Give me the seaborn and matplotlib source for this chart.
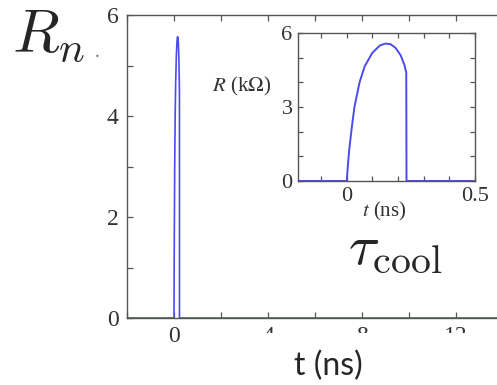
import numpy as np
import pandas as pd
import seaborn as sns
import matplotlib
matplotlib.use("Agg")
import matplotlib.pyplot as plt
from matplotlib.patches import Rectangle
from matplotlib.ticker import MultipleLocator

# pulse (t in ns, R in kOhm)
pulse_t = [-0.19, 0.0, 0.005, 0.01, 0.02, 0.03, 0.05, 0.07, 0.10, 0.13, 0.15,
           0.17, 0.19, 0.21, 0.225, 0.232, 0.233, 0.5]
pulse_r = [0.0, 0.0, 0.7, 1.3, 2.2, 3.0, 4.0, 4.65, 5.2, 5.5, 5.57,
           5.55, 5.4, 5.1, 4.7, 4.4, 0.0, 0.0]
# main trace = same pulse on a long baseline
main_t = [-2.0] + pulse_t + [14.0]
main_r = [0.0] + pulse_r + [0.0]

main_xticks = [0, 4, 8, 12]
main_yticks = [0, 2, 4, 6]
inset_xticks = [0, 0.5]
inset_xlabels = ["0", "0.5"]
inset_yticks = [0, 3, 6]

LINE = "#4b4bf0"
SPINE = "#555555"
TXT = "#333333"

sns.set_theme(style="white")
plt.rcParams["font.family"] = ["Liberation Serif", "DejaVu Serif"]
plt.rcParams["mathtext.fontset"] = "cm"

fig = plt.figure(figsize=(4.97, 3.85), dpi=100)
W, H = 497, 385

def px_axes(x0, y0, x1, y1):
    return fig.add_axes([x0 / W, 1 - y1 / H, (x1 - x0) / W, (y1 - y0) / H])

# main axes (right side runs off the picture)
ax = px_axes(127, 15, 503, 318)
df_main = pd.DataFrame({"t": main_t, "R": main_r})
sns.lineplot(data=df_main, x="t", y="R", ax=ax, color=LINE, lw=1.2,
             estimator=None, sort=False)
ax.set_xlim(-2, 14)
ax.set_ylim(0, 6)
ax.set_xticks(main_xticks)
ax.set_yticks(main_yticks)
ax.xaxis.set_minor_locator(MultipleLocator(2))
ax.yaxis.set_minor_locator(MultipleLocator(1))
ax.tick_params(which="both", direction="in", top=True, right=True,
               bottom=True, left=True, length=4, width=0.9, color=SPINE,
               labelsize=17, pad=6, labelcolor=TXT)
ax.set_xlabel("")
ax.set_ylabel("")
for s in ax.spines.values():
    s.set_color(SPINE)
    s.set_linewidth(1.0)

# inset
axi = px_axes(298, 33, 475, 181)
df_in = pd.DataFrame({"t": pulse_t, "R": pulse_r})
sns.lineplot(data=df_in, x="t", y="R", ax=axi, color=LINE, lw=1.4,
             estimator=None, sort=False)
axi.set_xlim(-0.19, 0.5)
axi.set_ylim(0, 6)
axi.set_xticks(inset_xticks, inset_xlabels)
axi.set_yticks(inset_yticks)
axi.xaxis.set_minor_locator(MultipleLocator(0.1))
axi.yaxis.set_minor_locator(MultipleLocator(1))
axi.tick_params(which="both", direction="in", top=True, right=True,
                bottom=True, left=True, length=3.5, width=0.9, color=SPINE,
                labelsize=16, pad=4, labelcolor=TXT)
for s in axi.spines.values():
    s.set_color(SPINE)
    s.set_linewidth(1.0)
axi.set_ylabel(r"$R$ (k$\Omega$)", rotation=0, ha="right", va="center",
               fontsize=15, color=TXT, math_fontfamily="stix")
axi.yaxis.set_label_coords(-0.15, 0.64)
axi.set_xlabel(r"$t$ (ns)", fontsize=15, color=TXT, va="center",
               math_fontfamily="stix")
axi.xaxis.set_label_coords(0.49, -0.205)

# hide lower half of the 4 / 8 / 12 labels like the screenshot
fig.add_artist(Rectangle((245 / W, 1 - 348 / H), 252 / W, 15 / H,
                         transform=fig.transFigure, facecolor="white",
                         edgecolor="none", zorder=10))

fig.text(12 / W, 1 - 52 / H, r"$R_{n}$", fontsize=44, va="baseline")
fig.text(95 / W, 1 - 57 / H, ".", fontsize=14, va="baseline", color="#666666")
fig.text(348 / W, 1 - 263 / H, r"$\tau_{\rm cool}$", fontsize=41,
         va="baseline")
fig.text(328 / W, 1 - 375 / H, "t (ns)", fontsize=23, ha="center",
         va="baseline", family=["Lato", "DejaVu Sans"])

fig.savefig("out.png", dpi=100)
